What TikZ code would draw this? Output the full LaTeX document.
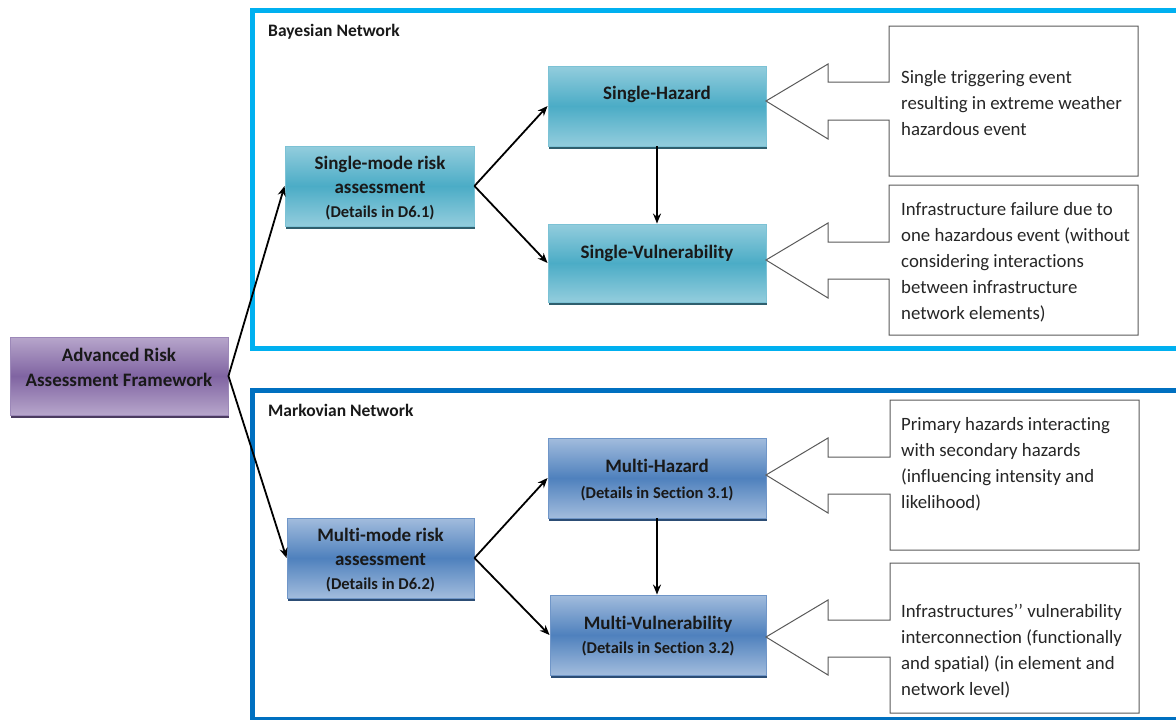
\documentclass[tikz,border=0pt]{standalone}
\usepackage{fontspec}
\setmainfont{Carlito}[Ligatures={NoCommon}]
\usetikzlibrary{arrows.meta}

\definecolor{bayesframe}{HTML}{00B0F0}
\definecolor{markovframe}{HTML}{0070C0}
\definecolor{teallight}{HTML}{93CDDD}
\definecolor{tealmid}{HTML}{4BACC6}
\definecolor{tealedge}{HTML}{7CC2D5}
\definecolor{tealshadow}{HTML}{2F5F6E}
\definecolor{bluelight}{HTML}{A2BCDD}
\definecolor{bluemid}{HTML}{4F81BD}
\definecolor{blueedge}{HTML}{7096C8}
\definecolor{blueshadow}{HTML}{2C4D75}
\definecolor{purplelight}{HTML}{B7A6CB}
\definecolor{purplemid}{HTML}{8064A2}
\definecolor{purpleedge}{HTML}{9C88B8}
\definecolor{purpleshadow}{HTML}{4B3B60}
\definecolor{calloutline}{HTML}{5A5A5A}

\newcommand\detsz{\fontsize{16.5}{24}\selectfont}

\begin{document}
\begin{tikzpicture}[x=1pt,y=-1pt,
  shadebox/.style n args={3}{rectangle, inner sep=0pt, line width=0.9pt,
    draw=#1edge, top color=#1light, bottom color=#1light, middle color=#1mid,
    preaction={draw=none, fill=#1shadow, transform canvas={xshift=0.8pt,yshift=-2.6pt}},
    minimum width=#2, minimum height=#3},
  boxtxt/.style={align=center, inner sep=0pt, text=black!90,
    font=\fontsize{19}{24}\selectfont\bfseries},
  calltxt/.style={anchor=west, align=left, inner sep=0pt, text=black!85,
    font=\fontsize{18.8}{26}\selectfont},
  frametitle/.style={anchor=west, inner sep=0pt, text=black!90,
    font=\fontsize{17.5}{20}\selectfont\bfseries},
  callout/.style={draw=calloutline, line width=1pt, fill=white, line join=miter},
  conn/.style={line width=1.8pt, -{Stealth[length=10pt,width=8pt]}}]

\useasboundingbox (0,0) rectangle (1176,720);

% network frames
\draw[bayesframe, line width=5pt] (252,10) rectangle (1190,348);
\draw[markovframe, line width=5pt] (252,390) rectangle (1190,719);
\node[frametitle] (bnt) at (268,32) {Bayesian Network};
\node[frametitle] (mnt) at (268,410) {Markovian Network};

% boxes
\node[shadebox={purple}{218pt}{78pt}] (adv) at (119,376) {};
\node[shadebox={teal}{189pt}{80pt}] (sm) at (379.5,186) {};
\node[shadebox={teal}{218pt}{80pt}] (sh) at (657,106) {};
\node[shadebox={teal}{218pt}{78pt}] (sv) at (657,263) {};
\node[shadebox={blue}{187pt}{80pt}] (mm) at (380.5,558) {};
\node[shadebox={blue}{218pt}{80pt}] (mh) at (657,478) {};
\node[shadebox={blue}{216pt}{80pt}] (mv) at (658,635) {};

% box texts
\node[boxtxt] (adv-t) at (119,367) {Advanced Risk\\[1pt]Assessment Framework};
\node[boxtxt] (sm-t) at (380,188) {Single-mode risk\\assessment\\{\detsz (Details in D6.1)}};
\node[boxtxt] (sh-t) at (657,94) {Single-Hazard};
\node[boxtxt] (sv-t) at (657,253) {Single-Vulnerability};
\node[boxtxt] (mm-t) at (380.5,560) {Multi-mode risk\\assessment\\{\detsz (Details in D6.2)}};
\node[boxtxt] (mh-t) at (657,480) {Multi-Hazard\\[2pt]{\detsz (Details in Section 3.1)}};
\node[boxtxt] (mv-t) at (658,636) {Multi-Vulnerability\\{\detsz (Details in Section 3.2)}};

% connectors
\draw[conn] (adv.east) -- (sm.west);
\draw[conn] (adv.east) -- (mm.west);
\draw[conn] (sm.east) -- (sh.west);
\draw[conn] (sm.east) -- (sv.west);
\draw[conn] (sh.south) -- (sv.north);
\draw[conn] (mm.east) -- (mh.west);
\draw[conn] (mm.east) -- (mv.west);
\draw[conn] (mh.south) -- (mh.south |- mv.north);

% left-arrow callouts
\draw[callout] (1138,26) -- (889,26) -- (889,82) -- (828,82) -- (828,64)
  -- (766,101) -- (828,139) -- (828,120) -- (889,120) -- (889,176) -- (1138,176) -- cycle;
\draw[callout] (1138,185) -- (889,185) -- (889,242) -- (828,242) -- (828,223)
  -- (766,260) -- (828,298) -- (828,279) -- (889,279) -- (889,335) -- (1138,335) -- cycle;
\draw[callout] (1139,400) -- (890,400) -- (890,457) -- (828,457) -- (828,438)
  -- (766,475) -- (828,513) -- (828,494) -- (890,494) -- (890,550) -- (1139,550) -- cycle;
\draw[callout] (1139,563) -- (890,563) -- (890,620) -- (828,620) -- (828,600)
  -- (766,637) -- (828,675) -- (828,657) -- (890,657) -- (890,713) -- (1139,713) -- cycle;

% callout texts
\node[calltxt] (c1) at (901,103) {Single triggering event\\resulting in extreme weather\\hazardous event};
\node[calltxt] (c2) at (901,262) {Infrastructure failure due to\\one hazardous event (without\\considering interactions\\between infrastructure\\network elements)};
\node[calltxt] (c3) at (901,464) {Primary hazards interacting\\with secondary hazards\\(influencing intensity and\\likelihood)};
\node[calltxt] (c4) at (901,651.5) {Infrastructures’’ vulnerability\\interconnection (functionally\\and spatial) (in element and\\network level)};

\end{tikzpicture}
\end{document}
